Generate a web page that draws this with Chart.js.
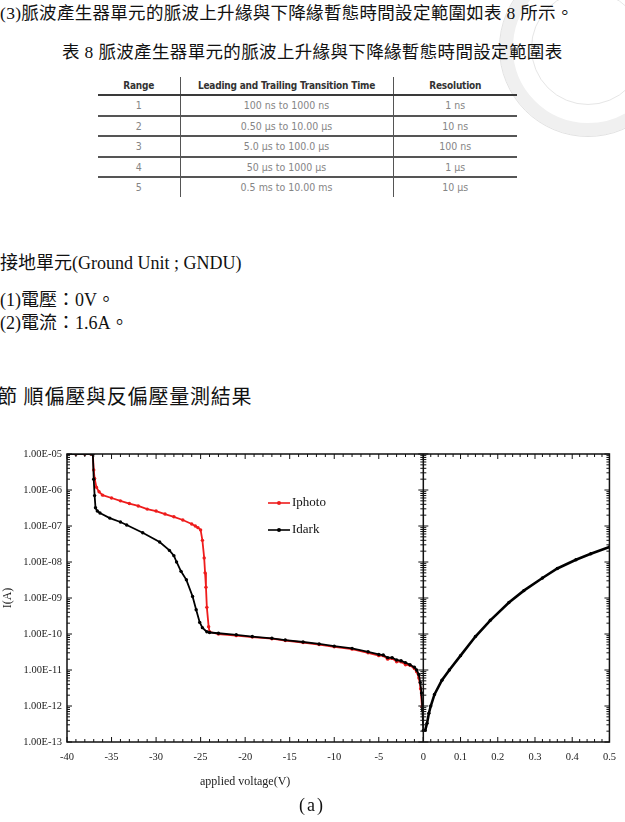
<!DOCTYPE html>
<html>
<head>
<meta charset="utf-8">
<script src="https://cdn.jsdelivr.net/npm/chart.js@4.4.0/dist/chart.umd.min.js"></script>
<style>
  html, body { margin: 0; padding: 0; background: #fff; }
  #page { position: relative; width: 625px; height: 822px; overflow: hidden;
    font-family: 'Liberation Serif', 'Noto Sans CJK TC', serif; color: #111; }
  .ln { position: absolute; white-space: nowrap; line-height: 24px; font-size: 17.5px; }
  #seal { position: absolute; left: 500px; top: -40px; width: 150px; height: 150px;
    border-radius: 50%; border: 13px solid #f0f0f0; outline: 1px solid #e2e2e2; outline-offset: 0; }
  #seal::after { content: ''; position: absolute; left: 18px; top: 18px; width: 112px; height: 112px;
    border-radius: 50%; border: 1px solid #e6e6e6; }
  table.spec { position: absolute; left: 98px; top: 77px; width: 419px; border-collapse: collapse;
    font-family: 'DejaVu Sans Condensed', 'DejaVu Sans', sans-serif; table-layout: fixed; }
  table.spec th { height: 17px; padding: 0; font-size: 10px; font-weight: bold; color: #333;
    letter-spacing: -0.2px; border-bottom: 2px solid #3a3a3a; }
  table.spec td { height: 18.5px; padding: 0; font-size: 10.5px; color: #858585; text-align: center;
    border-bottom: 2px solid #555; }
  table.spec tr:last-child td { border-bottom: none; }
  table.spec th + th, table.spec td + td { border-left: 1.5px solid #555; }
  #chartBox { position: absolute; left: 0; top: 440px; width: 625px; height: 360px; }
</style>
</head>
<body>
<div id="page">
  <div id="seal"></div>
  <div class="ln" style="top:1px;left:0;letter-spacing:0.3px">(3)脈波產生器單元的脈波上升緣與下降緣暫態時間設定範圍如表 8 所示。</div>
  <div class="ln" style="top:40px;left:62px;letter-spacing:0.35px">表 8 脈波產生器單元的脈波上升緣與下降緣暫態時間設定範圍表</div>

  <table class="spec">
    <colgroup><col style="width:82px"><col style="width:213px"><col style="width:124px"></colgroup>
    <thead><tr><th>Range</th><th>Leading and Trailing Transition Time</th><th>Resolution</th></tr></thead>
    <tbody id="specBody"></tbody>
  </table>

  <div class="ln" style="top:251px;left:0;font-size:18px">接地單元(Ground Unit ; GNDU)</div>
  <div class="ln" style="top:288px;left:0;font-size:18px">(1)電壓：0V。</div>
  <div class="ln" style="top:311px;left:0;font-size:18px">(2)電流：1.6A。</div>
  <div class="ln" style="top:385px;left:-3px;font-size:20px;letter-spacing:0.8px">節 順偏壓與反偏壓量測結果</div>

  <div id="chartBox"><canvas id="ivChart" width="625" height="360"></canvas></div>
  <div class="ln" style="top:793px;left:299px;font-size:18px;letter-spacing:2px">(a)</div>
</div>

<script>
// table 8 rows
const rangeNo = ['1', '2', '3', '4', '5']
const transTime = ['100 ns to 1000 ns', '0.50 μs to 10.00 μs', '5.0 μs to 100.0 μs', '50 μs to 1000 μs', '0.5 ms to 10.00 ms']
const resolution = ['1 ns', '10 ns', '100 ns', '1 μs', '10 μs']

// I-V curves, reverse bias (left panel)
const photoV = [-40, -39, -38, -37.3, -37.1, -37.0, -36.9, -36.7, -36.4, -36.0, -35.0, -34.0, -33.0, -32.0, -31.0,
  -30.0, -29.0, -28.0, -27.0, -26.0, -25.6, -25.3, -25.0, -24.8, -24.6, -24.5, -24.4, -24.3, -24.1, -24.0,
  -23.0, -21.0, -19.2, -17.0, -15.5, -13.5, -11.7, -10.0, -8.0, -6.2, -5.0, -4.5, -4.0, -3.5, -3.0, -2.5,
  -2.0, -1.5, -1.0, -0.75, -0.5, -0.3, -0.15]
const photoI = [1.0e-5, 1.0e-5, 1.0e-5, 1.0e-5, 1.0e-5, 3.6e-6, 2.1e-6, 1.2e-6, 8.9e-7, 7.2e-7, 6.0e-7, 5.0e-7, 4.2e-7, 3.6e-7, 2.95e-7,
  2.6e-7, 2.15e-7, 1.8e-7, 1.47e-7, 1.14e-7, 1.0e-7, 9.0e-8, 7.8e-8, 4.0e-8, 1.3e-8, 5.0e-9, 2.0e-9, 5.5e-10, 1.6e-10, 1.15e-10,
  1.0e-10, 9.0e-11, 8.2e-11, 7.4e-11, 6.6e-11, 5.8e-11, 5.1e-11, 4.4e-11, 3.8e-11, 3.0e-11, 2.5e-11, 2.5e-11, 2.0e-11, 2.1e-11, 1.7e-11, 1.7e-11,
  1.4e-11, 1.35e-11, 1.1e-11, 9.0e-12, 6.0e-12, 3.0e-12, 9.5e-13]

const darkV = [-40, -39, -38, -37.3, -37.1, -37.0, -36.9, -36.8, -36.6, -36.3, -35.2, -34.0, -33.3, -31.5, -29.6,
  -28.5, -28.0, -27.7, -27.2, -26.6, -25.9, -25.5, -25.1, -24.8, -24.3, -24.0,
  -23.0, -21.0, -19.2, -17.0, -15.5, -13.5, -11.7, -10.0, -8.0, -6.2, -5.0, -4.5, -4.0, -3.5, -3.0, -2.5,
  -2.0, -1.5, -1.0, -0.75, -0.5, -0.35, -0.2, -0.1, 0]
const darkI = [1.0e-5, 1.0e-5, 1.0e-5, 1.0e-5, 1.0e-5, 2.0e-6, 7.0e-7, 3.2e-7, 2.6e-7, 2.3e-7, 1.66e-7, 1.29e-7, 1.07e-7, 6.5e-8, 3.6e-8,
  2.1e-8, 1.5e-8, 1.0e-8, 5.5e-9, 3.2e-9, 1.1e-9, 4.7e-10, 2.1e-10, 1.5e-10, 1.15e-10, 1.1e-10,
  1.05e-10, 9.5e-11, 8.5e-11, 7.6e-11, 6.8e-11, 6.0e-11, 5.3e-11, 4.6e-11, 4.0e-11, 3.2e-11, 2.7e-11, 2.6e-11, 2.2e-11, 2.2e-11, 1.9e-11, 1.8e-11,
  1.6e-11, 1.4e-11, 1.2e-11, 1.0e-11, 7.5e-12, 4.5e-12, 2.3e-12, 8.0e-13, 2.1e-13]

// forward bias dark current (right panel)
const fwdV = [0.005, 0.01, 0.015, 0.02, 0.03, 0.05, 0.07, 0.1, 0.14, 0.18, 0.23, 0.27, 0.32, 0.36, 0.41, 0.45, 0.5]
const fwdI = [2.1e-13, 3.3e-13, 6.3e-13, 1.0e-12, 2.1e-12, 5.2e-12, 1.0e-11, 2.5e-11, 8.5e-11, 2.4e-10, 7.5e-10, 1.6e-9, 3.6e-9, 6.6e-9, 1.15e-8, 1.7e-8, 2.6e-8]

const yTickValues = [1e-13, 1e-12, 1e-11, 1e-10, 1e-9, 1e-8, 1e-7, 1e-6, 1e-5]

const RED = '#ee1c1c'
const INK = '#222'
const SERIF = "'Liberation Serif', 'Times New Roman', serif"

// fill the table
const body = document.getElementById('specBody')
rangeNo.forEach((r, i) => {
  const tr = document.createElement('tr')
  ;[r, transTime[i], resolution[i]].forEach(t => {
    const td = document.createElement('td')
    td.textContent = t
    tr.appendChild(td)
  })
  body.appendChild(tr)
})

const pts = (xs, ys) => xs.map((x, i) => ({ x, y: ys[i] }))
const expLabel = v => {
  const e = Math.round(Math.log10(v))
  return '1.00E' + (e < 0 ? '-' : '+') + String(Math.abs(e)).padStart(2, '0')
}

// box around both panels, divider at 0 V, inward tick marks
const frame = {
  id: 'frame',
  afterDatasetsDraw(chart) {
    const { ctx, chartArea: a, scales: { xl, xr, y } } = chart
    const x0 = xl.getPixelForValue(0)
    ctx.save()
    ctx.strokeStyle = '#111'
    ctx.lineWidth = 1.5
    ctx.strokeRect(a.left, a.top, a.right - a.left, a.bottom - a.top)
    ctx.beginPath()
    ctx.moveTo(x0, a.top)
    ctx.lineTo(x0, a.bottom)
    ctx.stroke()

    ctx.lineWidth = 1
    ctx.beginPath()
    const vTick = (px, len) => {
      ctx.moveTo(px, a.bottom); ctx.lineTo(px, a.bottom - len)
      ctx.moveTo(px, a.top); ctx.lineTo(px, a.top + len)
    }
    for (let v = -40; v <= 0; v++) vTick(xl.getPixelForValue(v), v % 5 === 0 ? 5 : 3)
    for (let i = 0; i <= 25; i++) vTick(xr.getPixelForValue(i * 0.02), i % 5 === 0 ? 5 : 3)

    for (let e = -13; e <= -5; e++) {
      for (let m = 1; m < 10; m++) {
        if (e === -5 && m > 1) break
        const py = y.getPixelForValue(m * Math.pow(10, e))
        const len = m === 1 ? 5 : 3
        ctx.moveTo(a.left, py); ctx.lineTo(a.left + len, py)
        ctx.moveTo(x0 - len, py); ctx.lineTo(x0 + len, py)
        ctx.moveTo(a.right, py); ctx.lineTo(a.right - len, py)
      }
    }
    ctx.stroke()
    ctx.restore()
  }
}

// legend drawn inside the plot area
const innerLegend = {
  id: 'innerLegend',
  afterDraw(chart) {
    const { ctx, chartArea: a } = chart
    const items = chart.data.datasets.filter(d => d.showInLegend)
    const x = a.left + 201
    ctx.save()
    items.forEach((d, i) => {
      const y = a.top + 49 + i * 27
      ctx.strokeStyle = d.borderColor
      ctx.lineWidth = 1.6
      ctx.beginPath()
      ctx.moveTo(x, y); ctx.lineTo(x + 22, y)
      ctx.stroke()
      ctx.fillStyle = d.borderColor
      ctx.beginPath()
      ctx.arc(x + 11, y, 2, 0, Math.PI * 2)
      ctx.fill()
      ctx.fillStyle = '#111'
      ctx.font = '13px ' + SERIF
      ctx.textBaseline = 'middle'
      ctx.fillText(d.label, x + 24, y)
    })
    ctx.restore()
  }
}

const lineStyle = color => ({
  borderColor: color, backgroundColor: color,
  pointBackgroundColor: color, pointBorderWidth: 0,
  borderWidth: 1.8, pointRadius: 1.7, showLine: true, tension: 0,
})

const tickFont = { family: SERIF, size: 10.5 }
const titleFont = { family: SERIF, size: 12 }

new Chart(document.getElementById('ivChart'), {
  type: 'scatter',
  data: {
    datasets: [
      { label: 'Iphoto', data: pts(photoV, photoI), xAxisID: 'xl', order: 2, showInLegend: true, ...lineStyle(RED) },
      { label: 'Idark', data: pts(darkV, darkI), xAxisID: 'xl', order: 1, showInLegend: true, ...lineStyle('#000') },
      { label: 'Idark forward', data: pts(fwdV, fwdI), xAxisID: 'xr', order: 1, ...lineStyle('#000'), borderWidth: 2.6 },
    ],
  },
  options: {
    responsive: false,
    animation: false,
    devicePixelRatio: 1,
    layout: { padding: { top: 14, right: 13, left: 0, bottom: 0 } },
    plugins: { legend: { display: false }, tooltip: { enabled: false } },
    scales: {
      xl: {
        type: 'linear', axis: 'x', position: 'bottom', stack: 'volt', stackWeight: 358,
        min: -40, max: 0,
        grid: { display: false, drawTicks: false },
        border: { display: false },
        ticks: { stepSize: 5, padding: 9, font: tickFont, color: INK, maxRotation: 0, autoSkip: false,
          callback: v => String(v) },
        title: { display: true, text: 'applied voltage(V)', font: titleFont, color: INK, padding: { top: 0, bottom: 11 } },
        afterFit: s => { s.height = 58 },
      },
      xr: {
        type: 'linear', axis: 'x', position: 'bottom', stack: 'volt', stackWeight: 187,
        min: 0, max: 0.5,
        grid: { display: false, drawTicks: false },
        border: { display: false },
        ticks: { stepSize: 0.1, padding: 9, font: tickFont, color: INK, maxRotation: 0, autoSkip: false,
          callback: v => (v === 0 ? '' : Number(v).toFixed(1)) },
        afterFit: s => { s.height = 58 },
      },
      y: {
        type: 'logarithmic', position: 'left', min: 1e-13, max: 1e-5,
        afterBuildTicks: s => { s.ticks = yTickValues.map(value => ({ value })) },
        grid: { display: false, drawTicks: false },
        border: { display: false },
        ticks: { padding: 5, font: tickFont, color: INK, autoSkip: false, callback: v => expLabel(v) },
        title: { display: true, text: 'I(A)', font: titleFont, color: INK, padding: { top: 1, bottom: 0 } },
        afterFit: s => { s.width = 67 },
      },
    },
  },
  plugins: [frame, innerLegend],
})
</script>
</body>
</html>
